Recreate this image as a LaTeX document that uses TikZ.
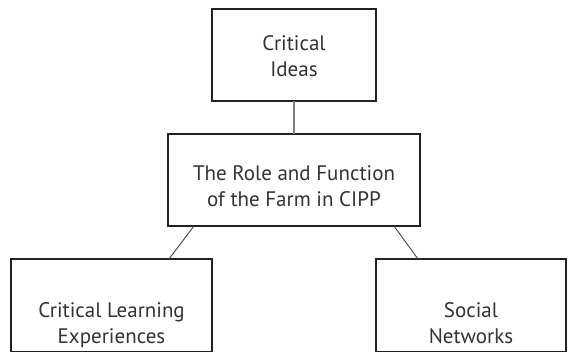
\documentclass[tikz,border=0pt]{standalone}
\usepackage{fontspec}
\setmainfont{PT Sans}
\usepackage{xcolor}
\usepackage{tikz}
\usetikzlibrary{positioning}
\definecolor{boxline}{HTML}{222222}
\definecolor{boxtext}{HTML}{333333}
\tikzstyle{concept}=[rectangle, draw=boxline, line width=2.6pt, fill=white, outer sep=0pt,
        text centered, align=center, text=boxtext, minimum height=92pt, text depth=0pt,
        font=\fontsize{21}{26}\selectfont]
\tikzstyle{stem}=[draw=black!50, line width=1.8pt]
\tikzstyle{branch}=[draw=boxline!85, line width=0.9pt]

\begin{document}
\begin{tikzpicture}[x=1pt, y=-1pt, node distance=33pt]
        \useasboundingbox (0,0) rectangle (569,351);
        \clip (0,0) rectangle (569,351);
        \node (ideas) [concept, minimum width=164pt, text height=42pt] at (294,55)
        {
          Critical\\Ideas
        };
        \node (role) [concept, minimum width=252pt, text height=52pt, below=of ideas]
        {
          The Role and Function\\of the Farm in CIPP
        };
        % lower row sits low in its boxes
        \node (learning) [concept, minimum width=201pt, minimum height=93pt, text height=76pt,
          below=of role, xshift=-182.5pt]
        {
          Critical Learning\\Experiences
        };
        \node (networks) [concept, minimum width=190pt, minimum height=93pt, text height=76pt,
          below=of role, xshift=177pt]
        {
          Social\\Networks
        };
        \draw [stem] (ideas.south) -- (role.north);
        \draw [branch] ([xshift=26pt]role.south west) -- ([xshift=-43pt]learning.north east);
        \draw [branch] ([xshift=-26pt]role.south east) -- ([xshift=42pt]networks.north west);
      \end{tikzpicture}
\end{document}
